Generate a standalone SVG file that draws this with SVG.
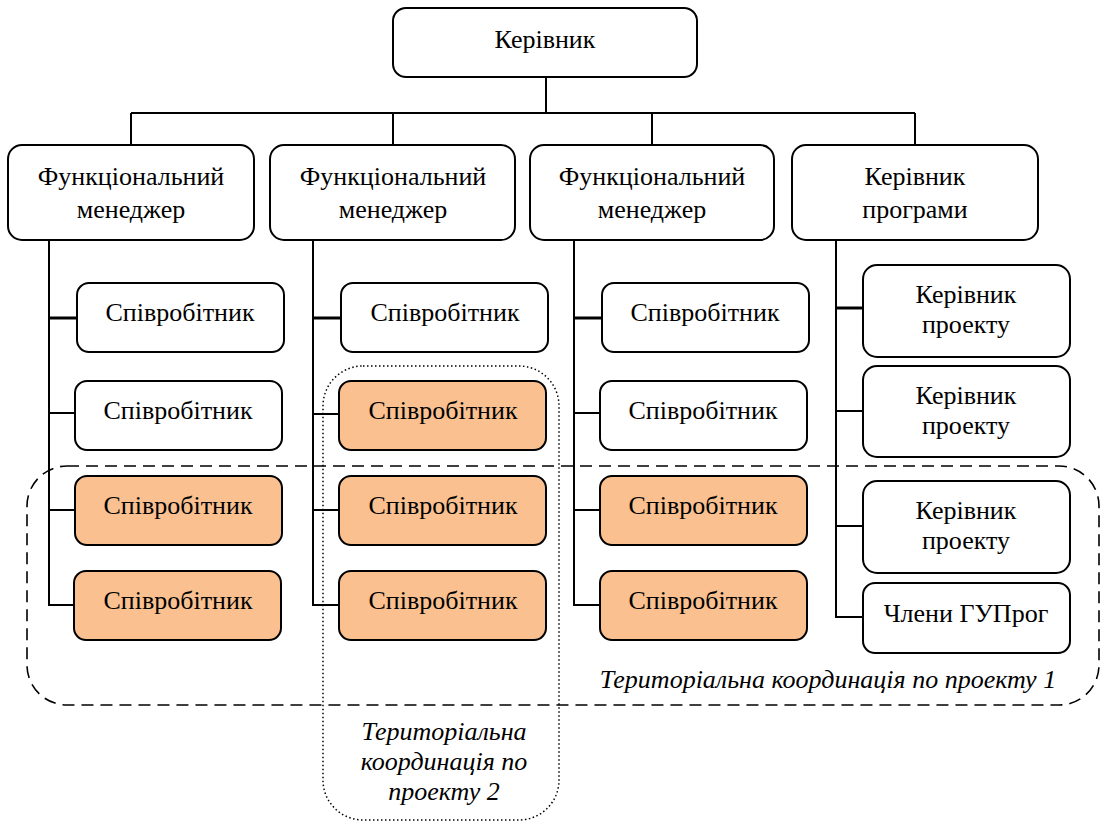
<svg xmlns="http://www.w3.org/2000/svg" width="1102" height="823" viewBox="0 0 1102 823" xml:lang="uk">
<defs>
<rect id="sb" width="207" height="69" rx="12"/>
</defs>
<rect width="1102" height="823" fill="#fff"/>
<g id="zone1">
<rect x="27" y="466" width="1072" height="239" rx="40" fill="none" stroke="#000" stroke-width="1.6" stroke-dasharray="12 7"/>
<text font-family="Times New Roman" font-size="26" text-anchor="middle" font-style="italic" x="828" y="688">Територіальна координація по проекту 1</text>
</g>
<g id="zone2">
<rect x="323" y="366" width="236" height="454" rx="40" fill="none" stroke="#000" stroke-width="1.5" stroke-dasharray="1.5 2.5"/>
<text font-family="Times New Roman" font-size="26" text-anchor="middle" font-style="italic" x="444" y="740">Територіальна</text>
<text font-family="Times New Roman" font-size="26" text-anchor="middle" font-style="italic" x="444" y="770">координація по</text>
<text font-family="Times New Roman" font-size="26" text-anchor="middle" font-style="italic" x="444" y="800">проекту 2</text>
</g>
<g id="connectors" fill="none" stroke="#000" stroke-width="2">
<path d="M546,77V113M131,113H915M131,113V145M393,113V145M652,113V145M915,113V145"/>
<path d="M49,240V605H75M49,413H75M49,510H75"/>
<path d="M313,240V605H339M313,414H339M313,510H339"/>
<path d="M574,240V605H600M574,413H600M574,510H600"/>
<path d="M836,240V617H863M836,411H863M836,526H863"/>
<path stroke-width="3" d="M49,318H77M313,318H342M574,318H602M836,308H863"/>
</g>
<g stroke="#000" stroke-width="2">
<g id="n0"><rect fill="#fff" x="393" y="8" width="304" height="69" rx="13"/><text font-family="Times New Roman" font-size="26" text-anchor="middle" stroke="none" x="545" y="48">Керівник</text></g>
<g id="m1"><rect fill="#fff" x="8" y="145" width="246" height="95" rx="14"/><text font-family="Times New Roman" font-size="26" text-anchor="middle" stroke="none" x="131" y="185">Функціональний</text><text font-family="Times New Roman" font-size="26" text-anchor="middle" stroke="none" x="131" y="218">менеджер</text></g>
<g id="m2"><rect fill="#fff" x="270" y="145" width="245" height="95" rx="14"/><text font-family="Times New Roman" font-size="26" text-anchor="middle" stroke="none" x="393" y="185">Функціональний</text><text font-family="Times New Roman" font-size="26" text-anchor="middle" stroke="none" x="393" y="218">менеджер</text></g>
<g id="m3"><rect fill="#fff" x="530" y="145" width="244" height="95" rx="14"/><text font-family="Times New Roman" font-size="26" text-anchor="middle" stroke="none" x="652" y="185">Функціональний</text><text font-family="Times New Roman" font-size="26" text-anchor="middle" stroke="none" x="652" y="218">менеджер</text></g>
<g id="m4"><rect fill="#fff" x="792" y="145" width="246" height="95" rx="14"/><text font-family="Times New Roman" font-size="26" text-anchor="middle" stroke="none" x="915" y="185">Керівник</text><text font-family="Times New Roman" font-size="26" text-anchor="middle" stroke="none" x="915" y="218">програми</text></g>
<g id="e11"><use href="#sb" fill="#fff" x="77" y="283"/><text font-family="Times New Roman" font-size="26" text-anchor="middle" stroke="none" x="180" y="321">Співробітник</text></g>
<g id="e12"><use href="#sb" fill="#fff" x="75" y="381"/><text font-family="Times New Roman" font-size="26" text-anchor="middle" stroke="none" x="178" y="419">Співробітник</text></g>
<g id="e13"><use href="#sb" fill="#FAC090" x="75" y="476"/><text font-family="Times New Roman" font-size="26" text-anchor="middle" stroke="none" x="178" y="514">Співробітник</text></g>
<g id="e14"><use href="#sb" fill="#FAC090" x="74" y="571"/><text font-family="Times New Roman" font-size="26" text-anchor="middle" stroke="none" x="178" y="609">Співробітник</text></g>
<g id="e21"><use href="#sb" fill="#fff" x="341" y="283"/><text font-family="Times New Roman" font-size="26" text-anchor="middle" stroke="none" x="445" y="321">Співробітник</text></g>
<g id="e22"><use href="#sb" fill="#FAC090" x="339" y="381"/><text font-family="Times New Roman" font-size="26" text-anchor="middle" stroke="none" x="443" y="419">Співробітник</text></g>
<g id="e23"><use href="#sb" fill="#FAC090" x="339" y="476"/><text font-family="Times New Roman" font-size="26" text-anchor="middle" stroke="none" x="443" y="514">Співробітник</text></g>
<g id="e24"><use href="#sb" fill="#FAC090" x="339" y="571"/><text font-family="Times New Roman" font-size="26" text-anchor="middle" stroke="none" x="443" y="609">Співробітник</text></g>
<g id="e31"><use href="#sb" fill="#fff" x="602" y="283"/><text font-family="Times New Roman" font-size="26" text-anchor="middle" stroke="none" x="705" y="321">Співробітник</text></g>
<g id="e32"><use href="#sb" fill="#fff" x="600" y="381"/><text font-family="Times New Roman" font-size="26" text-anchor="middle" stroke="none" x="703" y="419">Співробітник</text></g>
<g id="e33"><use href="#sb" fill="#FAC090" x="600" y="476"/><text font-family="Times New Roman" font-size="26" text-anchor="middle" stroke="none" x="703" y="514">Співробітник</text></g>
<g id="e34"><use href="#sb" fill="#FAC090" x="600" y="571"/><text font-family="Times New Roman" font-size="26" text-anchor="middle" stroke="none" x="703" y="609">Співробітник</text></g>
<g id="p1"><rect fill="#fff" x="863" y="265" width="207" height="92" rx="14"/><text font-family="Times New Roman" font-size="26" text-anchor="middle" stroke="none" x="966" y="303">Керівник</text><text font-family="Times New Roman" font-size="26" text-anchor="middle" stroke="none" x="966" y="333">проекту</text></g>
<g id="p2"><rect fill="#fff" x="863" y="366" width="207" height="91" rx="14"/><text font-family="Times New Roman" font-size="26" text-anchor="middle" stroke="none" x="966" y="404">Керівник</text><text font-family="Times New Roman" font-size="26" text-anchor="middle" stroke="none" x="966" y="434">проекту</text></g>
<g id="p3"><rect fill="#fff" x="863" y="481" width="207" height="92" rx="14"/><text font-family="Times New Roman" font-size="26" text-anchor="middle" stroke="none" x="966" y="519">Керівник</text><text font-family="Times New Roman" font-size="26" text-anchor="middle" stroke="none" x="966" y="549">проекту</text></g>
<g id="p4"><rect fill="#fff" x="863" y="583" width="207" height="70" rx="12"/><text font-family="Times New Roman" font-size="26" text-anchor="middle" stroke="none" x="966" y="622">Члени ГУПрог</text></g>
</g>
</svg>
